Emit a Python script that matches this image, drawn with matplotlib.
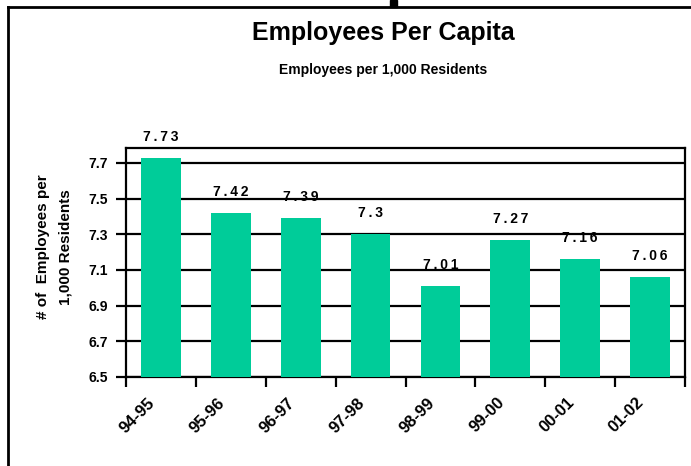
import matplotlib.pyplot as plt
from matplotlib.lines import Line2D
from matplotlib.patches import Rectangle
from matplotlib.transforms import ScaledTranslation

plt.rcParams['font.family'] = ['Liberation Sans', 'DejaVu Sans']

# data
years = ['94-95', '95-96', '96-97', '97-98', '98-99', '99-00', '00-01', '01-02']
per_capita = [7.73, 7.42, 7.39, 7.30, 7.01, 7.27, 7.16, 7.06]
y_ticks = [6.5, 6.7, 6.9, 7.1, 7.3, 7.5, 7.7]

fig = plt.figure(figsize=(6.91, 4.66), dpi=100)
ax = fig.add_axes([126 / 691, 1 - 377 / 466, (685 - 126) / 691, (377 - 148) / 466])

x = range(len(years))
ax.bar(x, per_capita, width=0.57, color='#00CC99', zorder=3)

# value labels, spread out a little like the original
for i, v in enumerate(per_capita):
    txt = '\u2009'.join(f'{v:g}')
    ax.annotate(txt, (i, v), xytext=(0, 15), textcoords='offset points',
                ha='center', va='center', fontsize=10, fontweight='bold',
                annotation_clip=False, zorder=4)

ax.set_ylim(6.5, 7.784)
ax.set_xlim(-0.5, len(years) - 0.5)
ax.set_yticks(y_ticks)
ax.set_yticklabels([f'{t:.1f}' for t in y_ticks], fontsize=10, fontweight='bold')
ax.yaxis.grid(True, color='black', linewidth=1.6, zorder=1)

# ticks at category boundaries, labels at centres
ax.set_xticks([i - 0.5 for i in range(len(years) + 1)])
ax.set_xticklabels([])
ax.set_xticks(list(x), minor=True)
ax.set_xticklabels(years, minor=True, rotation=45, ha='right', va='top',
                   rotation_mode='anchor', fontsize=12, fontweight='bold')
ax.tick_params(axis='x', which='minor', length=0, pad=13)
ax.tick_params(axis='both', which='major', direction='out', length=7,
               width=1.6, color='black')
ax.tick_params(axis='y', pad=6)
shift = ScaledTranslation(-10 / 72, 0, fig.dpi_scale_trans)
for lbl in ax.get_xticklabels(minor=True):
    lbl.set_transform(lbl.get_transform() + shift)

for s in ax.spines.values():
    s.set_linewidth(1.6)
    s.set_color('black')

fig.text(54 / 691, 1 - 247 / 466, '# of  Employees per\n1,000 Residents',
         rotation=90, ha='center', va='center', fontsize=11, fontweight='bold',
         linespacing=1.8)

fig.text(383 / 691, 1 - 33 / 466, 'Employees Per Capita', ha='center',
         va='center', fontsize=18, fontweight='bold')
fig.text(383 / 691, 1 - 70 / 466, 'Employees per 1,000 Residents', ha='center',
         va='center', fontsize=10, fontweight='bold')

# outer frame fragments
fig.add_artist(Line2D([8 / 691, 8 / 691], [0, 1 - 7 / 466], color='black',
                      linewidth=2, transform=fig.transFigure))
fig.add_artist(Line2D([8 / 691, 1], [1 - 7 / 466, 1 - 7 / 466], color='black',
                      linewidth=2, transform=fig.transFigure))
fig.add_artist(Rectangle((390 / 691, 1 - 7 / 466), 7 / 691, 7 / 466,
                         color='black', transform=fig.transFigure))

fig.savefig('out.png', dpi=100)
